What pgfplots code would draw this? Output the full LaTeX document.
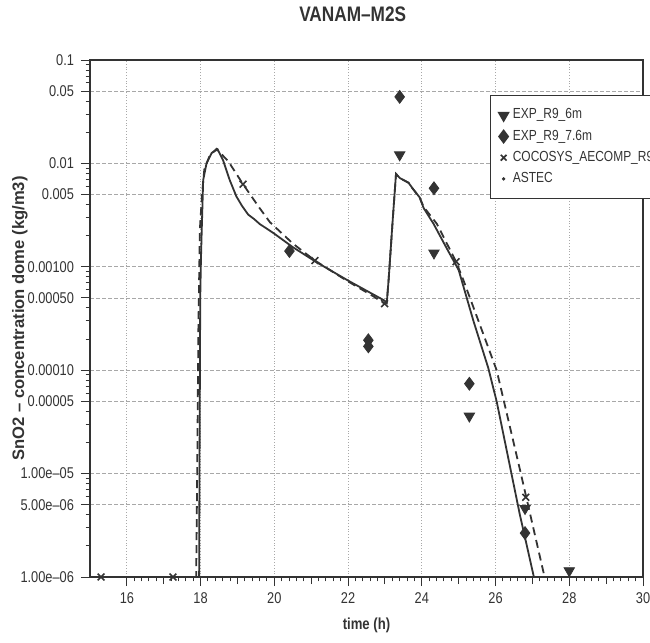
\documentclass[border=0pt]{standalone}
\usepackage{fontspec}
\setmainfont{Liberation Sans}[FakeStretch=0.82]
\newfontfamily\widesans{Liberation Sans}[Ligatures=TeX]
\usepackage{pgfplots}
\pgfplotsset{compat=1.18}
\definecolor{ink}{HTML}{333333}
\definecolor{gridc}{HTML}{A8A8A8}

\begin{document}
\begin{tikzpicture}
\begin{semilogyaxis}[
  name=ax, scale only axis, width=276.5pt, height=258.5pt,
  xmin=15, xmax=30, ymin=1e-6, ymax=0.1,
  xtick={16,18,...,30}, minor x tick num=9,
  extra x ticks={17,19,...,29}, extra x tick labels={},
  extra x tick style={grid=none, major tick length=3.5pt},
  ytick={1e-6,5e-6,1e-5,5e-5,1e-4,5e-4,1e-3,5e-3,1e-2,5e-2,1e-1},
  yticklabels={1.00e--06,5.00e--06,1.00e--05,0.00005,0.00010,0.00050,0.00100,0.005,0.01,0.05,0.1},
  minor ytick={2e-6,3e-6,4e-6,6e-6,7e-6,8e-6,9e-6,
    2e-5,3e-5,4e-5,6e-5,7e-5,8e-5,9e-5,
    2e-4,3e-4,4e-4,6e-4,7e-4,8e-4,9e-4,
    2e-3,3e-3,4e-3,6e-3,7e-3,8e-3,9e-3,
    2e-2,3e-2,4e-2,6e-2,7e-2,8e-2,9e-2},
  tick align=outside, xtick pos=bottom, ytick pos=left,
  major tick length=4.5pt, minor tick length=2.2pt,
  every tick/.style={ink, line width=0.5pt},
  axis line style={ink, line width=0.8pt},
  grid=major,
  x grid style={densely dotted, gridc, line width=0.4pt},
  y grid style={dash pattern=on 2pt off 1pt, gridc, line width=0.4pt},
  /pgf/number format/assume math mode=true,
  tick label style={font=\fontsize{7.8}{9}\selectfont, text=ink},
  title={VANAM--M2S},
  title style={at={(axis description cs:0.475,1.066)}, anchor=center,
    font=\fontsize{10.5}{12}\selectfont\bfseries, text=ink},
  xlabel={time (h)},
  xlabel style={at={(axis description cs:0.5,-0.093)}, anchor=center,
    font=\fontsize{8}{9}\selectfont\bfseries, text=ink},
  ylabel={SnO2 -- concentration dome (kg/m3)},
  ylabel style={at={(axis description cs:-0.127,0.5)}, anchor=center,
    font=\widesans\fontsize{8.3}{9}\selectfont\bfseries, text=ink},
  legend style={at={(axis description cs:0.723,0.932)}, anchor=north west,
    draw=ink, line width=0.6pt, font=\fontsize{7.3}{8}\selectfont, text=ink,
    inner xsep=4pt, inner ysep=4.5pt, row sep=0pt},
  legend cell align=left,
]
% ASTEC
\addplot[ink, line width=0.9pt, forget plot] coordinates {
  (15,1e-6) (17.96,1e-6) (17.97,1e-5) (17.99,5e-4) (18.01,1.2e-3)
  (18.03,0.0022) (18.07,0.0069) (18.16,0.0100) (18.30,0.0126)
  (18.46,0.0137) (18.61,0.0107) (18.79,0.0069) (18.97,0.0048)
  (19.12,0.0039) (19.29,0.0032) (19.45,0.0029) (19.6,0.0026)
  (20.0,0.00209) (20.5,0.00155)
  (21.14,0.00111) (22.0,0.000736) (22.99,0.000471) (23.05,0.00045)
  (23.10,0.00075) (23.20,0.0025) (23.30,0.0079) (23.41,0.0072)
  (23.64,0.0065) (23.77,0.0056) (23.94,0.0047) (24.05,0.0037)
  (24.32,0.0026) (24.68,0.0015) (25.0,0.00093) (25.40,0.00030)
  (25.80,1.06e-4) (26.03,5.0e-5) (26.66,4.0e-6) (27.04,1e-6)};
% COCOSYS line
\addplot[ink, line width=0.9pt, dash pattern=on 4pt off 2.5pt, forget plot] coordinates {
  (15,1e-6) (17.88,1e-6) (17.91,1.25e-5) (17.94,2.5e-4) (17.98,0.0023)
  (18.04,0.0051) (18.10,0.0087) (18.25,0.0120) (18.43,0.0138)
  (18.75,0.0105) (19.15,0.0063) (19.6,0.0037) (19.88,0.0027)
  (20.51,0.00167) (21.10,0.00115) (21.95,0.00074) (22.68,0.00052)
  (22.99,0.00044) (23.05,0.00045) (23.10,0.00075) (23.20,0.0025)
  (23.30,0.0079) (23.41,0.0072) (23.64,0.0065) (23.77,0.0056)
  (23.94,0.0047) (24.05,0.0038) (24.41,0.0026) (24.93,0.00112)
  (25.13,0.00074) (26.03,1.0e-4) (26.66,1.1e-5) (27.33,1e-6)};
\addplot[only marks, mark=x, ink, mark size=2.4pt, line width=0.8pt, forget plot] coordinates {
  (15.3,1e-6) (17.25,1e-6) (19.15,0.0063) (21.10,0.00115)
  (22.99,0.00044) (24.93,0.00112) (26.82,5.9e-6)};
% experiments
\addplot[only marks, mark=triangle*, mark options={rotate=180}, ink, mark size=3pt] coordinates {
  (23.4,0.0121) (24.33,0.00136) (25.29,3.6e-5) (26.8,4.6e-6) (28.0,1.15e-6)};
\addlegendentry{EXP\_R9\_6m}
\addplot[only marks, mark=diamond*, ink, mark size=3.2pt] coordinates {
  (20.41,0.00142) (22.55,1.95e-4) (22.55,1.7e-4) (23.4,0.044)
  (24.33,0.00575) (25.29,7.4e-5) (26.8,2.66e-6)};
\addlegendentry{EXP\_R9\_7.6m}
\addlegendimage{only marks, mark=x, ink, mark size=2pt, line width=0.8pt}
\addlegendentry{COCOSYS\_AECOMP\_R9}
\addlegendimage{only marks, mark=*, ink, mark size=0.5pt}
\addlegendentry{ASTEC}
\end{semilogyaxis}
\pgfresetboundingbox
\path ([xshift=-45pt,yshift=-32.5pt]ax.south west) rectangle ([xshift=3.5pt,yshift=30pt]ax.north east);
\end{tikzpicture}
\end{document}
